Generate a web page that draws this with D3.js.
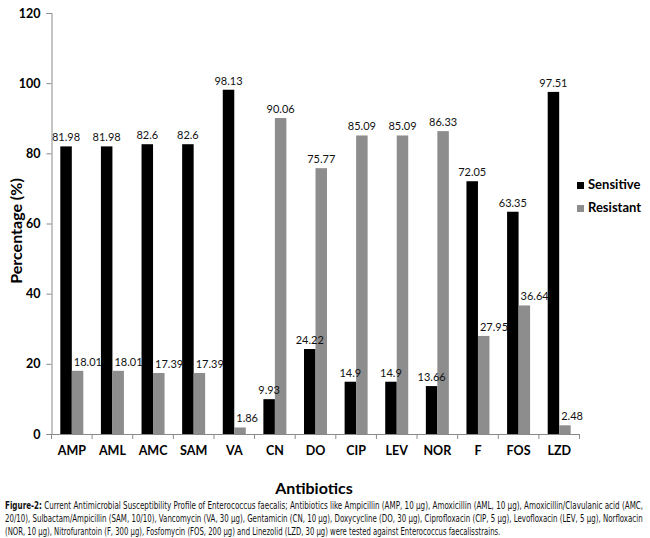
<!DOCTYPE html>
<html>
<head>
<meta charset="utf-8">
<script src="https://cdn.jsdelivr.net/npm/d3@7"></script>
<style>
  body { margin: 0; background: #fff; }
</style>
</head>
<body>
<script>
// Datos
const antibiotics = ["AMP", "AML", "AMC", "SAM", "VA", "CN", "DO", "CIP", "LEV", "NOR", "F", "FOS", "LZD"];
const sensitive = [81.98, 81.98, 82.6, 82.6, 98.13, 9.93, 24.22, 14.9, 14.9, 13.66, 72.05, 63.35, 97.51];
const resistant = [18.01, 18.01, 17.39, 17.39, 1.86, 90.06, 75.77, 85.09, 85.09, 86.33, 27.95, 36.64, 2.48];
const seriesNames = ["Sensitive", "Resistant"];
const yTicks = [0, 20, 40, 60, 80, 100, 120];
const captionLines = [
  ["Figure-2:", " Current Antimicrobial Susceptibility Profile of Enterococcus faecalis; Antibiotics like Ampicillin (AMP, 10 µg), Amoxicillin (AML, 10 µg), Amoxicillin/Clavulanic acid (AMC,"],
  ["", "20/10), Sulbactam/Ampicillin (SAM, 10/10), Vancomycin (VA, 30 µg), Gentamicin (CN, 10 µg), Doxycycline (DO, 30 µg), Ciprofloxacin (CIP, 5 µg), Levofloxacin (LEV, 5 µg), Norfloxacin"],
  ["", "(NOR, 10 µg), Nitrofurantoin (F, 300 µg), Fosfomycin (FOS, 200 µg) and Linezolid (LZD, 30 µg) were tested against Enterococcus faecalisstrains."]
];

// Variables
const w = 650;
const h = 538;
const mLeft = 51.5, mRight = 579.5, mTop = 13, mBottom = 434;
const colors = ["#000000", "#8d8d8d"];
const axisColor = "#8a8a8a";
const font = "Lato, 'Open Sans', sans-serif";

const table = antibiotics.map((a, i) => ({ name: a, values: [sensitive[i], resistant[i]] }));

const svg = d3.select("body")
  .append("svg")
  .attr("width", w)
  .attr("height", h);

// Escalas
const xScale = d3.scaleBand()
  .domain(antibiotics)
  .range([mLeft, mRight])
  .padding(0);

const barW = 11.5;
const xSub = d3.scaleBand()
  .domain(seriesNames)
  .range([xScale.bandwidth() / 2 - barW, xScale.bandwidth() / 2 + barW]);

const yScale = d3.scaleLinear()
  .domain([0, 120])
  .range([mBottom, mTop]);

// Barras
const groups = svg.append("g")
  .selectAll("g")
  .data(table)
  .enter()
  .append("g")
  .attr("transform", d => `translate(${xScale(d.name)},0)`);

const pairs = d => d.values.map((v, k) => ({ key: seriesNames[k], v: v, k: k, other: d.values[1 - k] }));

groups.selectAll("rect")
  .data(pairs)
  .enter()
  .append("rect")
  .attr("x", d => xSub(d.key))
  .attr("y", d => yScale(d.v))
  .attr("width", xSub.bandwidth())
  .attr("height", d => yScale(0) - yScale(d.v))
  .attr("fill", d => colors[d.k]);

// Etiquetas de valores (las de "Resistant" bajas se corren a la derecha)
const mid = xScale.bandwidth() / 2;
groups.selectAll("text")
  .data(pairs)
  .enter()
  .append("text")
  .attr("x", d => (d.k === 1 && d.v < d.other) ? mid + 2 : xSub(d.key) + xSub.bandwidth() / 2)
  .attr("y", d => yScale(d.v) - 5)
  .attr("text-anchor", d => (d.k === 1 && d.v < d.other) ? "start" : "middle")
  .attr("font-family", font)
  .attr("font-size", "11px")
  .attr("fill", "#111")
  .text(d => d.v);

// Eje Y
const yAxis = d3.axisLeft(yScale)
  .tickValues(yTicks)
  .tickSize(5)
  .tickPadding(6);

const gy = svg.append("g")
  .attr("transform", `translate(${mLeft},0)`)
  .call(yAxis);
gy.select(".domain").attr("stroke", axisColor);
gy.selectAll(".tick line").attr("stroke", axisColor);
gy.selectAll(".tick text")
  .attr("font-family", font)
  .attr("font-weight", "bold")
  .attr("font-size", "12.5px")
  .attr("fill", "#000");

// Eje X
const xAxis = d3.axisBottom(xScale)
  .tickSize(0)
  .tickPadding(12)
  .tickSizeOuter(0);

const gx = svg.append("g")
  .attr("transform", `translate(0,${mBottom})`)
  .call(xAxis);
gx.select(".domain").attr("stroke", axisColor);
gx.selectAll(".tick text")
  .attr("font-family", font)
  .attr("font-weight", "bold")
  .attr("font-size", "12.5px")
  .attr("fill", "#000");

// Marcas entre grupos
const bounds = antibiotics.map(a => xScale(a)).concat([xScale.range()[1]]);
gx.selectAll(".sep")
  .data(bounds)
  .enter()
  .append("line")
  .attr("class", "sep")
  .attr("x1", d => d)
  .attr("x2", d => d)
  .attr("y1", 0)
  .attr("y2", 5)
  .attr("stroke", axisColor);

// Títulos de ejes
svg.append("text")
  .attr("x", 314)
  .attr("y", 494)
  .attr("text-anchor", "middle")
  .attr("font-family", font)
  .attr("font-weight", "bold")
  .attr("font-size", "16px")
  .text("Antibiotics");

svg.append("text")
  .attr("transform", "translate(22,231) rotate(-90)")
  .attr("text-anchor", "middle")
  .attr("font-family", font)
  .attr("font-weight", "bold")
  .attr("font-size", "16px")
  .text("Percentage (%)");

// Leyenda
const legend = svg.append("g")
  .selectAll("g")
  .data(seriesNames)
  .enter()
  .append("g")
  .attr("transform", (d, i) => `translate(577,${182 + i * 23})`);

legend.append("rect")
  .attr("width", 7)
  .attr("height", 7)
  .attr("fill", (d, i) => colors[i]);

legend.append("text")
  .attr("x", 11)
  .attr("y", 7)
  .attr("font-family", font)
  .attr("font-weight", "bold")
  .attr("font-size", "13px")
  .text(d => d);

// Pie de figura: letra condensada, se estira/encoge en x al ancho de cada renglón
const capFont = "'Liberation Sans Narrow', 'DejaVu Sans Condensed', sans-serif";
const capWidths = [638, 638, 496];
captionLines.forEach((line, i) => {
  const t = svg.append("text")
    .attr("font-family", capFont)
    .attr("font-size", "10.5px")
    .attr("fill", "#111");
  if (line[0]) t.append("tspan").attr("font-weight", "bold").text(line[0]);
  t.append("tspan").text(line[1]);
  const sx = capWidths[i] / t.node().getComputedTextLength();
  t.attr("transform", `translate(5,${509 + i * 13}) scale(${sx.toFixed(3)},1)`);
});
</script>
</body>
</html>
